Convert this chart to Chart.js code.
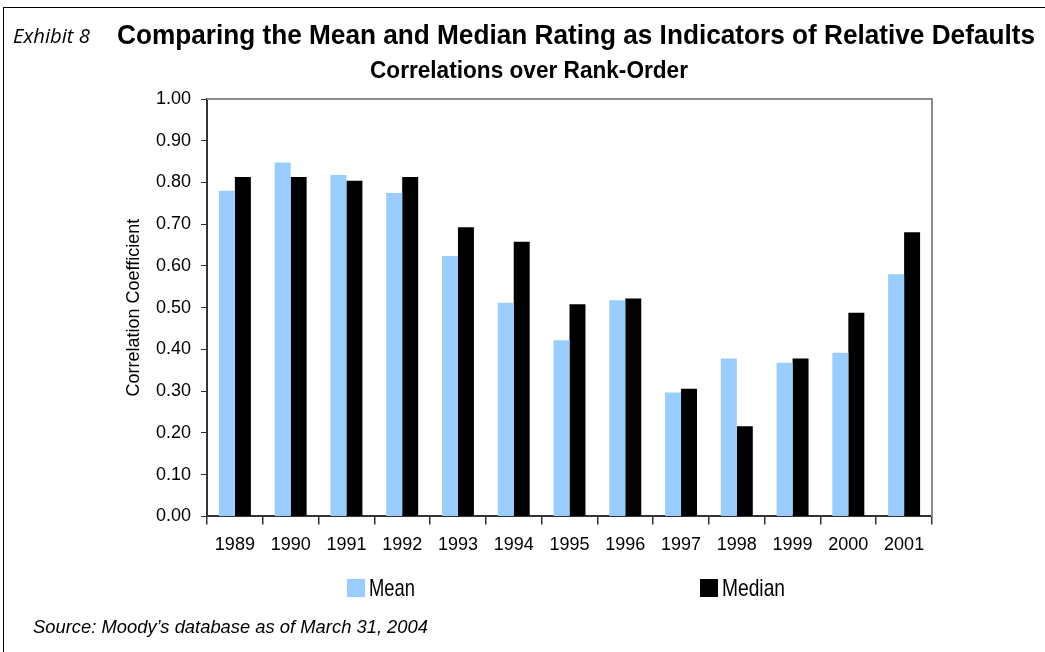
<!DOCTYPE html>
<html>
<head>
<meta charset="utf-8">
<script src="https://cdn.jsdelivr.net/npm/chart.js@4.4.1/dist/chart.umd.min.js"></script>
<style>
  html, body { margin: 0; padding: 0; background: #fff; }
  body { width: 1045px; height: 652px; position: relative; overflow: hidden;
         font-family: "Liberation Sans", Arial, sans-serif; color: #000; }
  #frame { position: absolute; left: 3px; top: 7px; width: 1100px; height: 700px; border: 1px solid #000; }
  #chartBox { position: absolute; left: 0; top: 0; width: 1045px; height: 652px; }
  .abs { position: absolute; white-space: nowrap; transform-origin: 0 0; }
  #exhibit { left: 13px; top: 26px; font-family: "Open Sans", sans-serif; font-style: italic; font-size: 20px; line-height: 20px; }
  #title { left: 117px; top: 22px; font-weight: bold; font-size: 27px; line-height: 27px; }
  #subtitle { left: 370px; top: 59px; font-weight: bold; font-size: 23px; line-height: 23px; }
  #source { left: 33px; top: 617px; font-style: italic; font-size: 19px; line-height: 19px; }
  .sw { position: absolute; width: 18px; height: 18px; top: 579px; }
  .legtxt { position: absolute; top: 576px; font-size: 24px; line-height: 24px; white-space: nowrap; transform-origin: 0 0; }
</style>
</head>
<body>
<div id="frame"></div>
<div id="chartBox"><canvas id="chart" width="1045" height="652"></canvas></div>
<div class="abs" id="exhibit">Exhibit 8</div>
<div class="abs" id="title">Comparing the Mean and Median Rating as Indicators of Relative Defaults</div>
<div class="abs" id="subtitle">Correlations over Rank-Order</div>
<div id="legend"></div>
<div class="abs" id="source">Source: Moody’s database as of March 31, 2004</div>
<script>
// ---- data ----
const years = ["1989", "1990", "1991", "1992", "1993", "1994", "1995", "1996", "1997", "1998", "1999", "2000", "2001"];
const meanValues = [0.78, 0.848, 0.818, 0.775, 0.624, 0.512, 0.422, 0.518, 0.297, 0.378, 0.368, 0.392, 0.58];
const medianValues = [0.813, 0.813, 0.804, 0.813, 0.693, 0.658, 0.508, 0.522, 0.306, 0.216, 0.378, 0.488, 0.681];
const seriesNames = ["Mean", "Median"];
const seriesColors = ["#99ccff", "#000000"];
const yTicks = [0, 0.1, 0.2, 0.3, 0.4, 0.5, 0.6, 0.7, 0.8, 0.9, 1.0];

const FONT = "'Liberation Sans', Arial, sans-serif";

/* gray frame on top and right of the plot area */
const plotFrame = {
    id: "plotFrame",
    afterDatasetsDraw(chart) {
        const a = chart.chartArea, ctx = chart.ctx;
        ctx.save();
        ctx.strokeStyle = "#8c8c8c";
        ctx.lineWidth = 2;
        ctx.beginPath();
        ctx.moveTo(a.left, a.top);
        ctx.lineTo(a.right, a.top);
        ctx.lineTo(a.right, a.bottom);
        ctx.stroke();
        ctx.restore();
    }
};

new Chart(document.getElementById("chart"), {
    type: "bar",
    data: {
        labels: years,
        datasets: [
            { label: seriesNames[0], data: meanValues, backgroundColor: seriesColors[0] },
            { label: seriesNames[1], data: medianValues, backgroundColor: seriesColors[1] }
        ]
    },
    options: {
        responsive: false,
        animation: false,
        layout: { padding: { left: 123, right: 113, top: 99, bottom: 86 } },
        datasets: { bar: { categoryPercentage: 0.573, barPercentage: 1.0 } },
        plugins: {
            legend: { display: false },
            tooltip: { enabled: false }
        },
        scales: {
            x: {
                grid: { display: true, offset: true, drawOnChartArea: false, drawTicks: true,
                        tickLength: 8, color: "#333", lineWidth: 1.5 },
                border: { display: true, color: "#333", width: 2 },
                ticks: { color: "#000", padding: 10, font: { family: FONT, size: 18 } }
            },
            y: {
                min: 0, max: 1,
                afterBuildTicks(scale) { scale.ticks = yTicks.map(v => ({ value: v })); },
                afterFit(scale) { scale.width = 84; },
                grid: { display: true, drawOnChartArea: false, drawTicks: true, tickLength: 6, color: "#333" },
                border: { display: true, color: "#333", width: 2 },
                title: { display: true, text: "Correlation Coefficient", color: "#000",
                         padding: 0, font: { family: FONT, size: 18 } },
                ticks: { color: "#000", padding: 10, font: { family: FONT, size: 18 },
                         callback: v => Number(v).toFixed(2) }
            }
        }
    },
    plugins: [plotFrame]
});

// squeeze text horizontally to the condensed widths of the original
function fitWidth(el, w) {
    const cur = el.getBoundingClientRect().width;
    el.style.transform = `scaleX(${w / cur})`;
}

// legend built from the series arrays
const legendBox = [347, 700];
const legendTextW = [46, 63];
const legend = document.getElementById("legend");
seriesNames.forEach((name, i) => {
    const sw = document.createElement("div");
    sw.className = "sw";
    sw.style.left = legendBox[i] + "px";
    sw.style.background = seriesColors[i];
    legend.appendChild(sw);
    const t = document.createElement("div");
    t.className = "legtxt";
    t.style.left = (legendBox[i] + 22) + "px";
    t.textContent = name;
    legend.appendChild(t);
    fitWidth(t, legendTextW[i]);
});

fitWidth(document.getElementById("title"), 918);
fitWidth(document.getElementById("subtitle"), 318);
fitWidth(document.getElementById("source"), 395);
fitWidth(document.getElementById("exhibit"), 77);
</script>
</body>
</html>
